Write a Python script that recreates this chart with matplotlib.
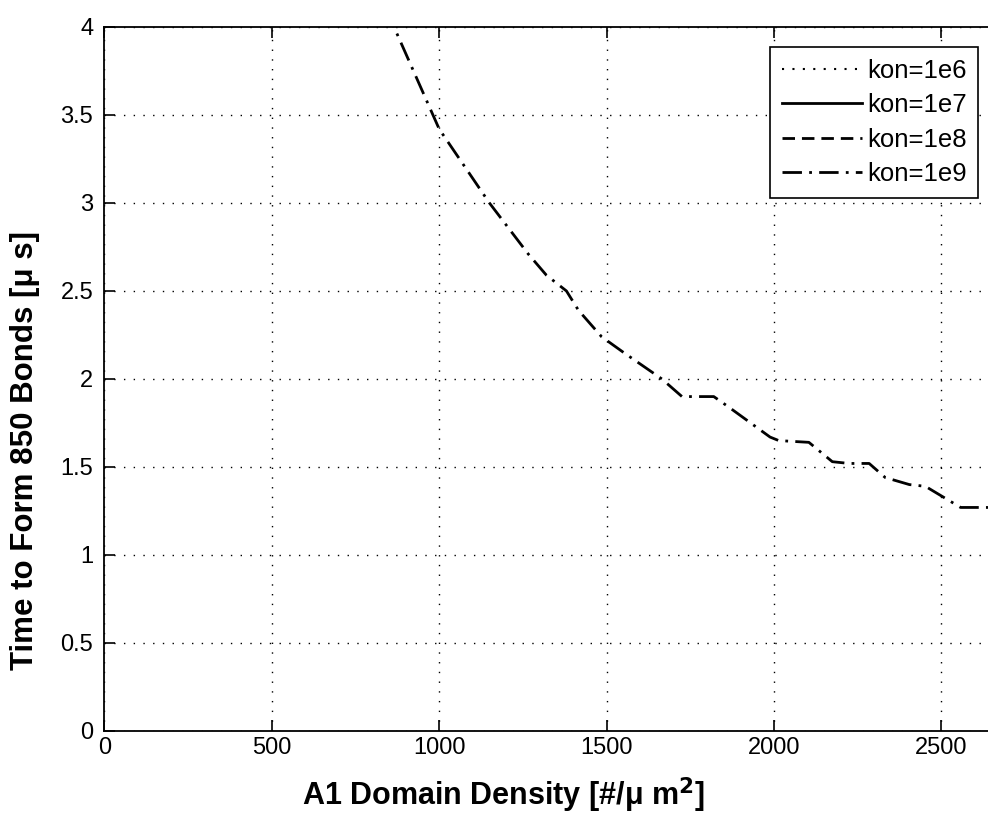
import matplotlib
matplotlib.use("Agg")
import matplotlib.pyplot as plt

plt.rcParams['font.family'] = ['Liberation Sans', 'DejaVu Sans']

# A1 domain density [#/um^2] and time to form 850 bonds [us]
density_1e9 = [840, 865, 1000, 1150, 1266, 1320, 1380, 1416, 1485, 1551, 1665,
               1725, 1820, 1865, 1988, 2014, 2104, 2174, 2224, 2284, 2332,
               2404, 2452, 2557, 2800]
time_1e9 = [4.10, 4.00, 3.42, 3.00, 2.71, 2.59, 2.50, 2.39, 2.24, 2.15, 2.00,
            1.90, 1.90, 1.84, 1.67, 1.65, 1.64, 1.53, 1.52, 1.52, 1.44,
            1.40, 1.39, 1.27, 1.27]

# slower rate constants lie above the plotted time range
density_1e6, time_1e6 = [], []
density_1e7, time_1e7 = [], []
density_1e8, time_1e8 = [], []

labels = ["kon=1e6", "kon=1e7", "kon=1e8", "kon=1e9"]
x_ticks = [0, 500, 1000, 1500, 2000, 2500]
y_ticks = [0, 0.5, 1, 1.5, 2, 2.5, 3, 3.5, 4]
y_ticklabels = ["0", "0.5", "1", "1.5", "2", "2.5", "3", "3.5", "4"]

fig = plt.figure(figsize=(9.88, 8.15), dpi=100)
ax = fig.add_axes([0.1056, 0.1031, 0.949, 0.8638])

ax.plot(density_1e6, time_1e6, color='black', linestyle=(0, (1, 4)), lw=1.5, label=labels[0])
ax.plot(density_1e7, time_1e7, color='black', linestyle='-', lw=2.0, label=labels[1])
ax.plot(density_1e8, time_1e8, color='black', linestyle=(0, (4.5, 2.5)), lw=2.0, label=labels[2])
ax.plot(density_1e9, time_1e9, color='black', linestyle=(0, (7, 2.6, 1, 2.6)), lw=2.0,
        label=labels[3])

ax.set_xlim(0, 2800)
ax.set_ylim(0, 4)
ax.set_xticks(x_ticks)
ax.set_yticks(y_ticks)
ax.set_yticklabels(y_ticklabels)
ax.tick_params(direction='in', length=8, width=1.2, top=True, right=True,
               labelsize=17, colors='black')
ax.tick_params(axis='x', pad=4.5)
ax.tick_params(axis='y', pad=8)
ax.grid(True, color='black', linestyle=(0, (1, 6)), linewidth=1.0)
for s in ax.spines.values():
    s.set_linewidth(1.3)

ax.set_xlabel("A1 Domain Density [#/\u03bc m$^{\\mathbf{2}}$]", fontsize=22,
              fontweight='bold', va='center')
ax.set_ylabel("Time to Form 850 Bonds [\u03bc s]", fontsize=22.5,
              fontweight='bold', va='center')
ax.xaxis.set_label_coords(0.4258, -0.092)
ax.yaxis.set_label_coords(-0.0846, 0.398)

leg = ax.legend(loc='upper right', bbox_to_anchor=(978 / 988, 1 - 47 / 815),
                bbox_transform=fig.transFigure, fontsize=18.5, fancybox=False,
                edgecolor='black', framealpha=1, handlelength=3.1,
                handletextpad=0.2, borderpad=0.45, labelspacing=0.41,
                borderaxespad=0)
leg.get_frame().set_linewidth(1.2)

fig.savefig("out.png", dpi=100)
